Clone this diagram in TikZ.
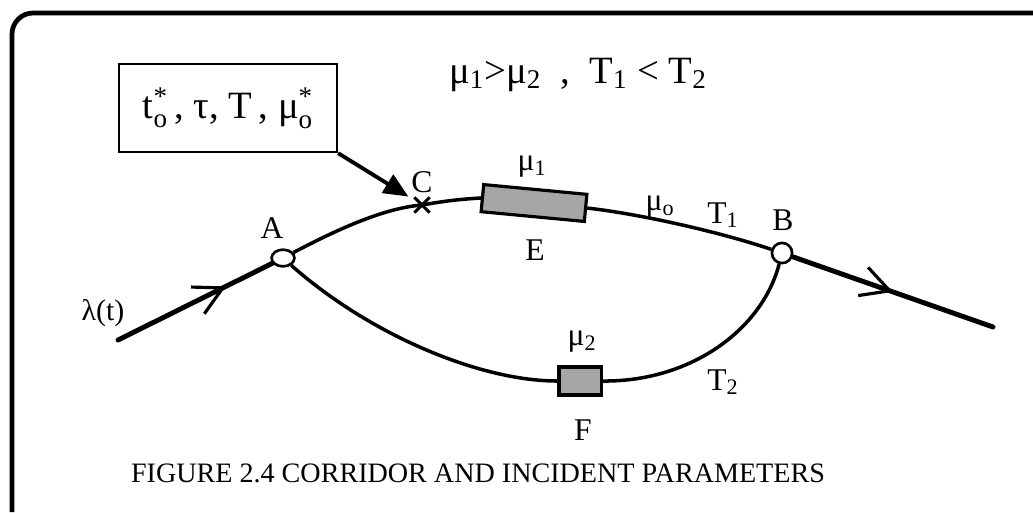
\documentclass[tikz,border=0pt]{standalone}
\usepackage{amsmath}
\usepackage{fontspec}
\setmainfont{Liberation Serif}
\usetikzlibrary{arrows.meta,shapes.geometric,shapes.misc,decorations.markings}

\begin{document}
\begin{tikzpicture}[x=0.02cm,y=-0.02cm,
  road/.style={line width=2pt},
  feed/.style={line width=2.8pt,line cap=round},
  lbl/.style={font=\fontsize{18}{21}\selectfont,inner sep=1pt},
  junction/.style={draw,line width=1.5pt,fill=white,inner sep=0pt},
  incident/.style={draw,line width=1.8pt,fill=black!35,inner sep=0pt},
  midarrow/.style={postaction={decorate},decoration={markings,
    mark=at position #1 with {\arrow[line width=1.8pt]{Straight Barb[length=16pt,width=17pt]}}}}]
\useasboundingbox (0,0) rectangle (1033,512);
% Frame
\draw[line width=2.7pt,rounded corners=12pt] (12,512) -- (12,13) -- (1033,13);
% Conditions
\node[font=\fontsize{22}{26}\selectfont] (cond) at (578,75)
  {μ\textsubscript{1}>μ\textsubscript{2} \ , \ T\textsubscript{1} < T\textsubscript{2}};
% Incident parameters box
\node[draw,line width=1.4pt,minimum width=124pt,minimum height=50pt,
  font=\fontsize{22}{26}\selectfont] (param) at (228,108)
  {$\text{t}_{\text{o}}^{\text{*}}$\,, $\text{τ}$, T\,, $\text{μ}_{\text{o}}^{\text{*}}$};
% Junctions and incident point
\node[junction,ellipse,minimum width=13pt,minimum height=9.5pt] (A) at (283,258) {};
\node[junction,circle,minimum size=11.5pt] (B) at (782,253) {};
\node[cross out,draw,line width=1.7pt,minimum size=7pt,inner sep=0pt] (C) at (422,205) {};
% Incidents
\node[incident,minimum width=59pt,minimum height=15.5pt,rotate=-5.4] (E) at (534,203) {};
\node[incident,minimum width=24pt,minimum height=16pt] (F) at (580,381) {};
% Flow in and out
\coordinate (in) at (118,340);
\coordinate (out) at (993,327);
\draw[feed,midarrow=0.7] (in) -- (A);
\draw[feed,midarrow=0.5] (B) -- (out);
% Main corridor
\draw[road] (A) .. controls (340,228) and (385,208) .. (C.center)
  .. controls (450,200) and (465,199) .. (E.west);
\draw[road] (E.east) .. controls (640,214) and (720,232) .. (B);
% Alternative route
\draw[road] (A) .. controls (370,335) and (480,381) .. (F.west);
\draw[road] (F.east) .. controls (690,382) and (762,330) .. (B);
% Pointer to incident
\draw[line width=2.2pt,-{Triangle[length=14pt,width=12pt]},shorten >=4pt] (param.south east) -- (C);
% Labels
\node[lbl] (Alabel) at (272,228) {A};
\node[lbl] (Blabel) at (783,220) {B};
\node[lbl] (Clabel) at (422,182) {C};
\node[lbl] (Elabel) at (535,250) {E};
\node[lbl] (Flabel) at (583,430) {F};
\node[lbl] (mu1) at (532,167) {μ\textsubscript{1}};
\node[lbl] (mu0) at (660,207) {μ\textsubscript{o}};
\node[lbl] (T1) at (723,215) {T\textsubscript{1}};
\node[lbl] (mu2) at (582,342) {μ\textsubscript{2}};
\node[lbl] (T2) at (723,382) {T\textsubscript{2}};
\node[font=\fontsize{17}{20}\selectfont] (lambda) at (103,313) {λ(t)};
% Caption
\node[font=\fontsize{16}{19}\selectfont] (caption) at (478,473)
  {FIGURE 2.4 CORRIDOR AND INCIDENT PARAMETERS};
\end{tikzpicture}
\end{document}
